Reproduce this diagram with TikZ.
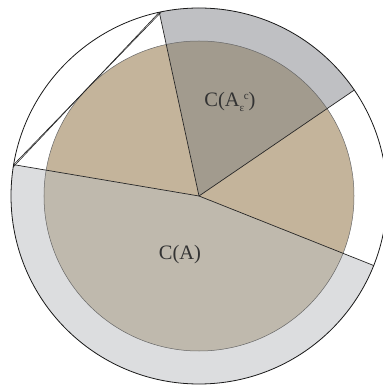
\documentclass[tikz,border=0pt]{standalone}
\usepackage{fontspec}
\setmainfont{Liberation Serif}
\begin{document}
\begin{tikzpicture}[
  ring/.style={draw=none},
  radial/.style={draw=black!85, line width=0.7pt},
  tangentline/.style={draw=black!85, line width=0.6pt},
  lbl/.style={text=black!80, font=\fontsize{20.5}{24}\selectfont, inner sep=0pt}
]
\def\Ro{188pt}
\def\Ri{155pt}
\useasboundingbox (-199pt,-191pt) rectangle (183pt,196pt);
\coordinate (O) at (0,0);
% sector boundary points on the outer circle
\coordinate (Pt) at (102.2:\Ro);
\coordinate (Pr) at (34.3:\Ro);
\coordinate (Pb) at (-21.7:\Ro);
\coordinate (Pl) at (170.4:\Ro);
\coordinate (Tl) at (171.1:\Ro);
\coordinate (Tt) at (101.5:\Ro);
% outer ring pieces
\fill[ring, fill={rgb,255:red,191;green,192;blue,195}] (O) -- (Pr) arc[start angle=34.3, end angle=102.2, radius=\Ro] -- cycle;
\fill[ring, fill={rgb,255:red,220;green,221;blue,223}] (O) -- (Pl) arc[start angle=170.4, end angle=338.3, radius=\Ro] -- cycle;
% inner pie
\fill[fill={rgb,255:red,162;green,155;blue,142}] (O) -- (34.3:\Ri) arc[start angle=34.3, end angle=102.2, radius=\Ri] -- cycle;
\fill[fill={rgb,255:red,196;green,180;blue,155}] (O) -- (102.2:\Ri) arc[start angle=102.2, end angle=170.4, radius=\Ri] -- cycle;
\fill[fill={rgb,255:red,191;green,185;blue,173}] (O) -- (170.4:\Ri) arc[start angle=170.4, end angle=338.3, radius=\Ri] -- cycle;
\fill[fill={rgb,255:red,196;green,180;blue,155}] (O) -- (-21.7:\Ri) arc[start angle=-21.7, end angle=34.3, radius=\Ri] -- cycle;
% inner circle edge
\draw[draw=black!60, line width=0.5pt] (O) circle[radius=\Ri];
% radial lines
\draw[radial] (O) -- (Pt);
\draw[radial] (O) -- (Pr);
\draw[radial] (O) -- (Pb);
\draw[radial] (O) -- (Pl);
% tangent lines
\draw[tangentline] (Pt) -- (Tl);
\draw[tangentline] (Pl) -- (Tt);
% outer circle
\draw[black!90, line width=0.8pt] (O) circle[radius=\Ro];
% labels
\node[lbl] (ca) at (-19pt,-59pt) {C(A)};
\node[lbl] (cae) at (31pt,94pt) {C(A\raisebox{-0.45ex}{\fontsize{11}{12}\selectfont ε}\hspace{-0.5pt}\raisebox{0.75ex}{\fontsize{11}{12}\selectfont c})};
\end{tikzpicture}
\end{document}
